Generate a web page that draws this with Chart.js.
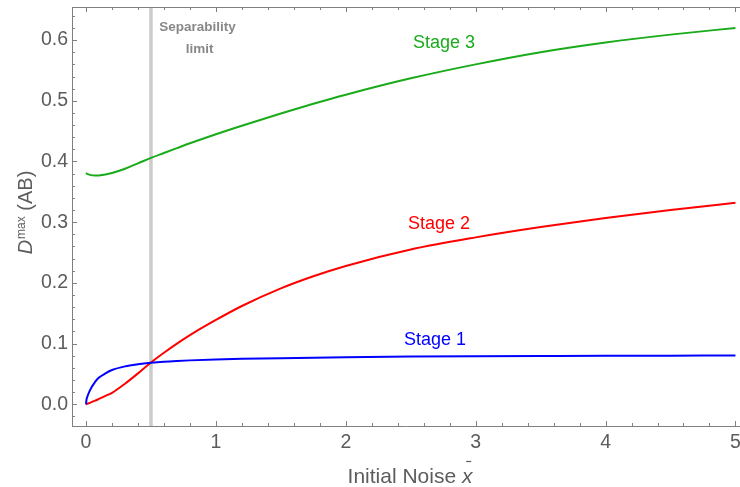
<!DOCTYPE html>
<html>
<head>
<meta charset="utf-8">
<script src="https://cdn.jsdelivr.net/npm/chart.js@4"></script>
<style>
  html, body { margin: 0; padding: 0; background: #fff; }
  #wrap { width: 740px; height: 487px; }
</style>
</head>
<body>
<div id="wrap"><canvas id="chart" width="740" height="487"></canvas></div>
<script>
// ===== Data =====
const noiseX = [0, 0.003, 0.01, 0.03, 0.07, 0.1, 0.15, 0.2, 0.3, 0.4, 0.5, 0.6, 0.7, 0.8, 1.0, 1.2, 1.5, 1.75, 2.0, 2.5, 3.0, 3.5, 4.0, 4.5, 5.0];
const stage1 = [0, 0.007, 0.0125, 0.023, 0.037, 0.044, 0.051, 0.0565, 0.0625, 0.066, 0.0685, 0.0703, 0.0715, 0.0724, 0.0738, 0.0749, 0.0761, 0.0769, 0.0776, 0.0786, 0.0793, 0.0797, 0.0800, 0.0802, 0.0804];
const stage2 = [0, 0.0003, 0.001, 0.0025, 0.006, 0.009, 0.014, 0.019, 0.034, 0.051, 0.069, 0.085, 0.100, 0.114, 0.139, 0.162, 0.191, 0.211, 0.228, 0.255, 0.275, 0.292, 0.307, 0.320, 0.332];
const stage3 = [0.381, 0.3805, 0.3795, 0.378, 0.3768, 0.377, 0.3785, 0.381, 0.388, 0.397, 0.406, 0.414, 0.422, 0.430, 0.445, 0.459, 0.479, 0.495, 0.510, 0.537, 0.560, 0.580, 0.596, 0.609, 0.620];
const separabilityX = 0.5;

const xTicks = [0, 1, 2, 3, 4, 5];
const xTickLabels = ['0', '1', '2', '3', '4', '5'];
const yTicks = [0, 0.1, 0.2, 0.3, 0.4, 0.5, 0.6];
const yTickLabels = ['0.0', '0.1', '0.2', '0.3', '0.4', '0.5', '0.6'];

// text labels placed in data coordinates
const notes = [
  { text: 'Stage 3', x: 2.756, y: 0.587, color: '#1aab1a', bold: false },
  { text: 'Stage 2', x: 2.717, y: 0.2896, color: '#ff0000', bold: false },
  { text: 'Stage 1', x: 2.687, y: 0.0985, color: '#0000ff', bold: false },
  { text: 'Separability', x: 0.858, y: 0.6143, color: '#888888', bold: true },
  { text: 'limit', x: 0.874, y: 0.5788, color: '#888888', bold: true }
];

// ===== Styling =====
const FONT = '"Liberation Sans", Arial, sans-serif';
const LABEL_GRAY = '#5c5c5c';
const FRAME_GRAY = '#808080';
const X_RANGE = [-0.108, 5.035];
const Y_RANGE = [-0.0357, 0.6545];

function toPoints(ys) {
  return noiseX.map((x, i) => ({ x: x, y: ys[i] }));
}

function curve(label, ys, color) {
  return {
    label: label,
    data: toPoints(ys),
    borderColor: color,
    borderWidth: 2,
    pointRadius: 0,
    cubicInterpolationMode: 'monotone',
    fill: false
  };
}

// ===== Plugin: inward frame ticks, top edge, titles, notes =====
const framePlugin = {
  id: 'frame',
  afterDatasetsDraw(chart) {
    const { ctx, scales: { x, y } } = chart;
    ctx.save();
    notes.forEach(n => {
      ctx.font = (n.bold ? 'bold 13.5px ' : '18px ') + FONT;
      ctx.fillStyle = n.color;
      ctx.textAlign = 'center';
      ctx.textBaseline = 'alphabetic';
      ctx.fillText(n.text, x.getPixelForValue(n.x), y.getPixelForValue(n.y));
    });
    ctx.restore();
  },
  afterDraw(chart) {
    const { ctx, chartArea: a, scales: { x, y } } = chart;
    ctx.save();
    ctx.strokeStyle = FRAME_GRAY;
    ctx.lineWidth = 1;

    // top edge
    ctx.beginPath();
    ctx.moveTo(a.left, a.top + 0.5);
    ctx.lineTo(a.right, a.top + 0.5);
    ctx.stroke();

    // x ticks (bottom + top), major every 1, minor every 0.2
    ctx.beginPath();
    xTicks.forEach(v => {
      for (let k = 0; k < 5; k++) {
        const val = v + k * 0.2;
        if (val > 5.0001) break;
        const px = Math.round(x.getPixelForValue(val)) + 0.5;
        const len = k === 0 ? 5 : 3;
        ctx.moveTo(px, a.bottom); ctx.lineTo(px, a.bottom - len);
        ctx.moveTo(px, a.top); ctx.lineTo(px, a.top + len);
      }
    });
    ctx.stroke();

    // y ticks (left), major every 0.1, minor every 0.02
    ctx.beginPath();
    [-0.1].concat(yTicks).forEach(v => {
      for (let k = 0; k < 5; k++) {
        const val = v + k * 0.02;
        if (val < Y_RANGE[0] || val > Y_RANGE[1]) continue;
        const py = Math.round(y.getPixelForValue(val)) + 0.5;
        const len = k === 0 ? 5 : 3;
        ctx.moveTo(a.left, py); ctx.lineTo(a.left + len, py);
      }
    });
    ctx.stroke();

    // x title: Initial Noise x̄
    ctx.fillStyle = LABEL_GRAY;
    ctx.textBaseline = 'alphabetic';
    ctx.textAlign = 'left';
    const base = '21px ' + FONT;
    const ital = 'italic 21px ' + FONT;
    ctx.font = base;
    const w1 = ctx.measureText('Initial Noise ').width;
    ctx.font = ital;
    const w2 = ctx.measureText('x').width;
    const cx = (a.left + a.right) / 2 + 4;
    const x0 = cx - (w1 + w2) / 2;
    ctx.font = base;
    ctx.fillText('Initial Noise ', x0, 483);
    ctx.font = ital;
    ctx.fillText('x', x0 + w1, 483);
    ctx.beginPath();
    ctx.lineWidth = 1.2;
    ctx.strokeStyle = LABEL_GRAY;
    const bx = x0 + w1 + w2 / 2 + 1.5;
    ctx.moveTo(bx - 2.5, 461.5);
    ctx.lineTo(bx + 2.5, 461.5);
    ctx.stroke();

    // y title: D^max (AB), rotated
    const fMain = '20px ' + FONT;
    const fItal = 'italic 20px ' + FONT;
    const fSup = '12px ' + FONT;
    ctx.font = fItal; const wD = ctx.measureText('D').width;
    ctx.font = fSup; const wS = ctx.measureText('max').width;
    ctx.font = fMain; const wT = ctx.measureText(' (AB)').width;
    const total = wD + wS + 1 + wT;
    const cy = (a.top + a.bottom) / 2 - 4;
    ctx.translate(32, cy + total / 2);
    ctx.rotate(-Math.PI / 2);
    ctx.font = fItal; ctx.fillText('D', 0, 0);
    ctx.font = fSup; ctx.fillText('max', wD + 1, -7);
    ctx.font = fMain; ctx.fillText(' (AB)', wD + wS + 1, 0);
    ctx.restore();
  }
};

// ===== Create Chart =====
const ctx = document.getElementById('chart').getContext('2d');
new Chart(ctx, {
  type: 'line',
  data: {
    datasets: [
      curve('Stage 1', stage1, '#0000ff'),
      curve('Stage 2', stage2, '#ff0000'),
      curve('Stage 3', stage3, '#1aab1a'),
      {
        label: 'Separability limit',
        data: [{ x: separabilityX, y: Y_RANGE[0] }, { x: separabilityX, y: Y_RANGE[1] }],
        borderColor: '#cccccc',
        borderWidth: 3.5,
        pointRadius: 0,
        fill: false
      }
    ]
  },
  options: {
    responsive: false,
    animation: false,
    devicePixelRatio: 1,
    layout: { padding: { left: 0, top: 7, right: 0, bottom: 0 } },
    plugins: {
      legend: { display: false },
      tooltip: { enabled: false }
    },
    scales: {
      x: {
        type: 'linear',
        min: X_RANGE[0],
        max: X_RANGE[1],
        afterBuildTicks: s => { s.ticks = xTicks.map(v => ({ value: v })); },
        afterFit: s => { s.height = 61; s.paddingLeft = 0; s.paddingRight = 0; },
        ticks: {
          callback: (v, i) => xTickLabels[i],
          color: LABEL_GRAY,
          font: { family: FONT, size: 19.5 },
          padding: 5,
          maxRotation: 0
        },
        grid: { display: false, drawTicks: false },
        border: { display: true, color: FRAME_GRAY, width: 1 }
      },
      y: {
        type: 'linear',
        min: Y_RANGE[0],
        max: Y_RANGE[1],
        afterBuildTicks: s => { s.ticks = yTicks.map(v => ({ value: v })); },
        afterFit: s => { s.width = 72; s.paddingTop = 0; s.paddingBottom = 0; },
        ticks: {
          callback: (v, i) => yTickLabels[i],
          color: LABEL_GRAY,
          font: { family: FONT, size: 19.5 },
          padding: 4
        },
        grid: { display: false, drawTicks: false },
        border: { display: true, color: FRAME_GRAY, width: 1 }
      }
    }
  },
  plugins: [framePlugin]
});
</script>
</body>
</html>
